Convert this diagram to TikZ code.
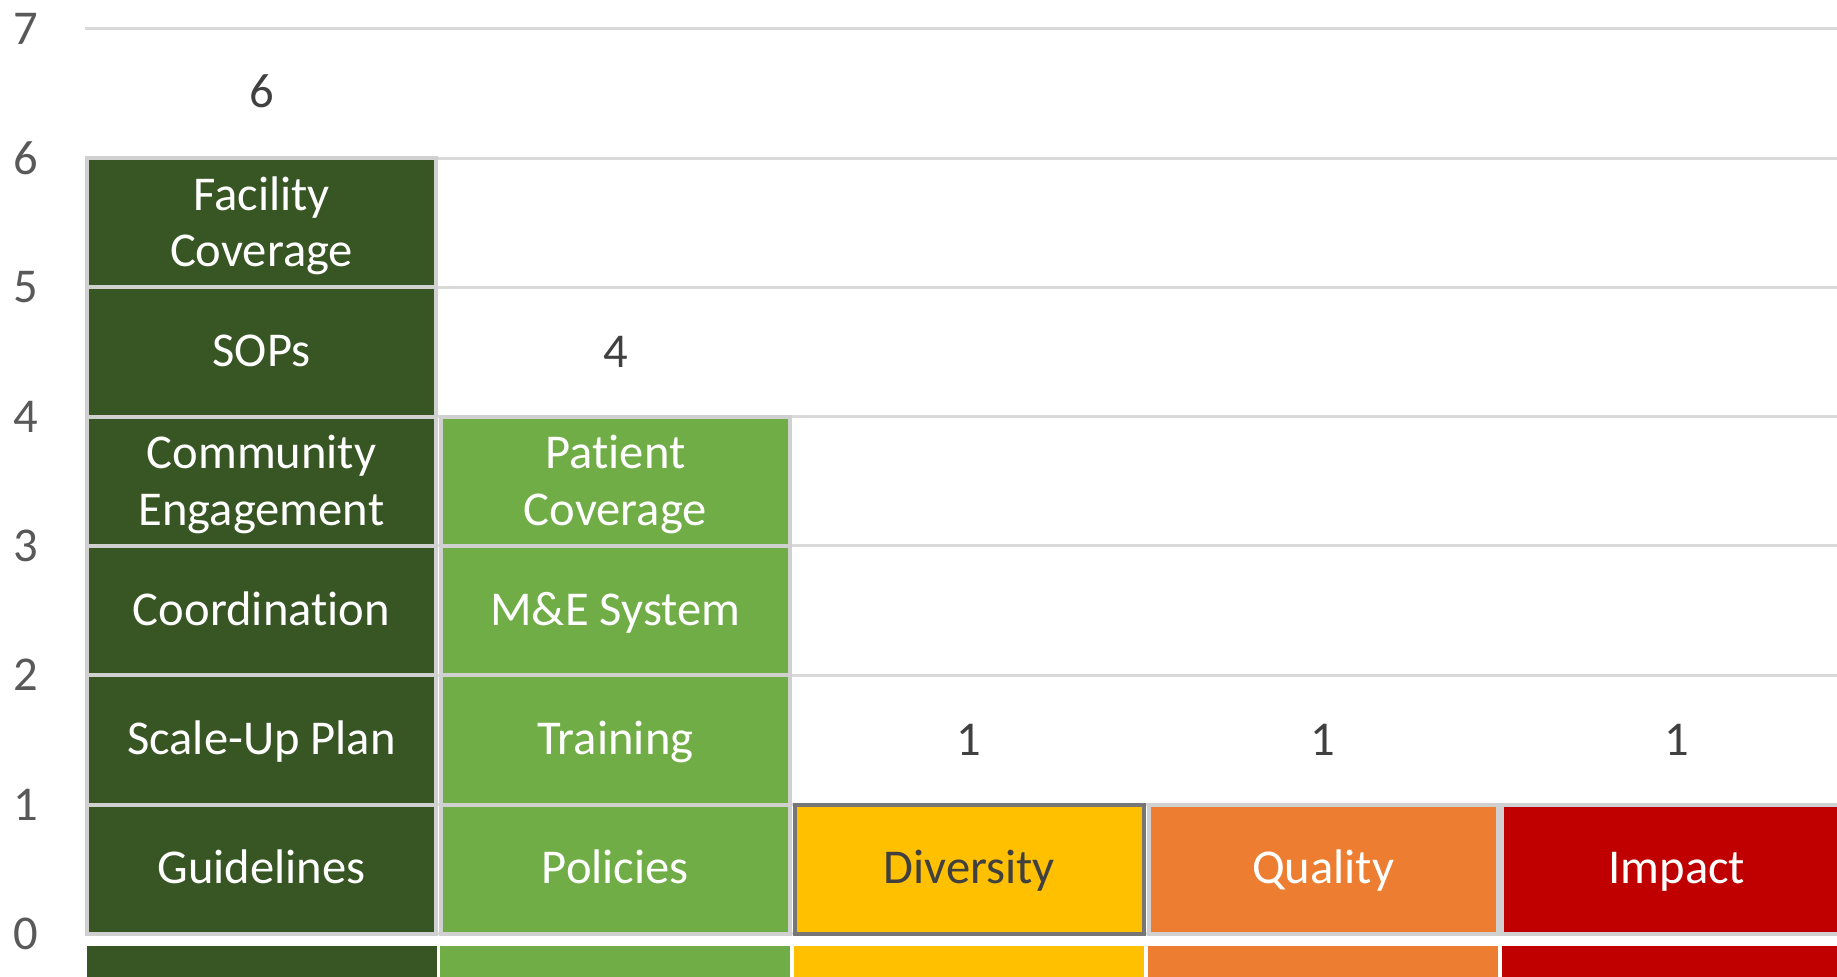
\documentclass[tikz,border=0pt]{standalone}
\usepackage{fontspec}
\setmainfont{Carlito}[Ligatures=NoCommon]
\definecolor{dkgreen}{HTML}{375623}
\definecolor{ltgreen}{HTML}{70AD47}
\definecolor{amber}{HTML}{FFC000}
\definecolor{orng}{HTML}{ED7D31}
\definecolor{crimson}{HTML}{C00000}
\definecolor{gridc}{HTML}{D9D9D9}
\definecolor{segborder}{HTML}{D0D0D0}
\definecolor{selborder}{HTML}{767676}
\definecolor{lbltext}{HTML}{404040}
\definecolor{axtext}{HTML}{595959}
\tikzset{
  chartfont/.style={font=\fontsize{24.3pt}{28.3pt}\selectfont},
  seg/.style={chartfont, draw=segborder, line width=2pt, minimum width=174.5pt, minimum height=64.65pt, inner sep=0pt, align=center, text=white, text height=19pt, text depth=4.4pt},
  twoline/.style={text height=48pt, text depth=4pt},
  gridline/.style={draw=gridc, line width=1.5pt},
  datalbl/.style={chartfont, text=lbltext, inner sep=0pt},
  axlbl/.style={chartfont, text=axtext, inner sep=0pt},
  strip/.style={inner sep=0pt, minimum width=175pt, minimum height=30pt, anchor=north}
}
\begin{document}
\begin{tikzpicture}[x=0.5pt,y=-0.5pt]
\useasboundingbox (0,0) rectangle (1837,976);
\clip (0,0) rectangle (1837,976);
\fill[white] (0,0) rectangle (1837,976);
% gridlines
\foreach \yy/\nm in {933.8/g0,804.5/g1,675.2/g2,545.9/g3,416.6/g4,287.3/g5,158/g6,28.7/g7}{
  \coordinate (\nm l) at (84.6,\yy);
  \coordinate (\nm r) at (1837,\yy);
  \draw[gridline] (\nm l) -- (\nm r);
}
% axis labels
\node[axlbl] (a0) at (26,933.8) {0};
\node[axlbl] (a1) at (26,804.5) {1};
\node[axlbl] (a2) at (26,675.2) {2};
\node[axlbl] (a3) at (26,545.9) {3};
\node[axlbl] (a4) at (26,416.6) {4};
\node[axlbl] (a5) at (26,287.3) {5};
\node[axlbl] (a6) at (26,158) {6};
\node[axlbl] (a7) at (26,28.7) {7};
% column 1
\node[seg, fill=dkgreen] (guidelines) at (261.5,869.15) {Guidelines};
\node[seg, fill=dkgreen] (scaleup) at (261.5,739.85) {Scale-Up Plan};
\node[seg, fill=dkgreen] (coordination) at (261.5,610.55) {Coordination};
\node[seg, twoline, fill=dkgreen] (community) at (261.5,481.25) {Community\\Engagement};
\node[seg, fill=dkgreen] (sops) at (261.5,351.95) {SOPs};
\node[seg, twoline, fill=dkgreen] (facility) at (261.5,222.65) {Facility\\Coverage};
\node[datalbl] (t1) at (261.5,91) {6};
% column 2
\node[seg, fill=ltgreen] (policies) at (615.4,869.15) {Policies};
\node[seg, fill=ltgreen] (training) at (615.4,739.85) {Training};
\node[seg, fill=ltgreen] (mesystem) at (615.4,610.55) {M\&E System};
\node[seg, twoline, fill=ltgreen] (patient) at (615.4,481.25) {Patient\\Coverage};
\node[datalbl] (t2) at (615.4,351.95) {4};
% column 3-5
\node[seg, fill=amber, draw=selborder, text=lbltext] (diversity) at (969.2,869.15) {Diversity};
\node[datalbl] (t3) at (969.2,739.85) {1};
\node[seg, fill=orng] (quality) at (1323.1,869.15) {Quality};
\node[datalbl] (t4) at (1323.1,739.85) {1};
\node[seg, fill=crimson] (impact) at (1676.9,869.15) {Impact};
\node[datalbl] (t5) at (1676.9,739.85) {1};
% bottom strip
\node[strip, fill=dkgreen] (s1) at (261.5,945.5) {};
\node[strip, fill=ltgreen] (s2) at (615.4,945.5) {};
\node[strip, fill=amber] (s3) at (969.2,945.5) {};
\node[strip, fill=orng] (s4) at (1323.1,945.5) {};
\node[strip, fill=crimson] (s5) at (1676.9,945.5) {};
\end{tikzpicture}
\end{document}
